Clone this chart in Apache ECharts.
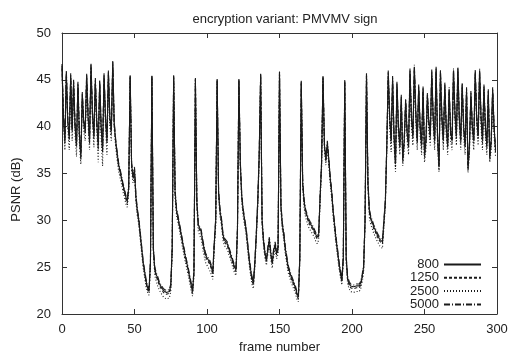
<!DOCTYPE html>
<html>
<head>
<meta charset="utf-8">
<title>encryption variant: PMVMV sign</title>
<script src="https://cdn.jsdelivr.net/npm/echarts@6/dist/echarts.min.js"></script>
<style>
  html, body { margin: 0; padding: 0; background: #fff; }
  #chart { width: 511px; height: 351px; }
</style>
</head>
<body>
<div id="chart"></div>
<script>
// PSNR per frame (frames 0..299)
const psnr800 = [
  46.5, 41, 38.5, 45.8, 40.5, 38.8, 45.5, 39.5, 44.8, 40, 38, 44.6, 39, 36.8, 43.5,
  40.5, 39.5, 45.5, 41, 38.5, 46.6, 41.5, 39, 45, 40.5, 38, 44.8, 40, 37.5, 45.5,
  41, 38.5, 45.8, 41, 39.5, 46.9, 40.4, 38.5, 37.2, 36, 35.3, 34.6, 33.8, 33.2, 32.5,
  32, 33.5, 45.4, 36, 34.6, 35.5, 32.5, 31, 30, 28.5, 27, 25.5, 24.5, 23.5, 22.8,
  22.5, 25.5, 45.4, 27, 24.8, 24.2, 23.8, 23.3, 23, 22.8, 22.5, 22.6, 22.3, 22.2, 22.4,
  23, 27, 45.4, 33, 31.1, 30.3, 29.5, 28.7, 27.8, 27, 26.2, 25.5, 24.8, 24, 23.2,
  22.4, 24.5, 45.1, 32, 29.5, 29.6, 28.8, 27.8, 27, 26.3, 26, 25.8, 25.5, 25, 24.4,
  27.5, 30, 45, 33, 31, 30, 28.5, 27.9, 27.8, 27.5, 27, 26.5, 26, 25.5, 25,
  24.7, 29, 45, 36, 32.5, 31, 30, 29, 27.5, 26, 24.8, 23.8, 23.3, 25.5, 28.5,
  32, 37, 45.6, 30, 27.8, 26.5, 25.8, 27, 28, 26.5, 25.5, 26.8, 27.5, 26.5, 27,
  45.8, 31.5, 29.5, 28.5, 27, 26, 25, 24.5, 24, 23.6, 23.2, 22.8, 22.2, 21.8, 26,
  44.8, 34, 32, 31, 30.5, 30, 29.7, 29.5, 29.2, 29, 28.5, 28.2, 28.5, 32.5, 36,
  45.3, 38, 36.5, 38.3, 36.5, 34.5, 33, 31, 29.5, 28, 26.8, 25.5, 24.5, 23.6, 26,
  44.9, 26, 23.8, 23.3, 23, 22.8, 22.9, 22.7, 23, 22.8, 23, 23.3, 24, 25, 30,
  45.6, 34, 31, 30.2, 29.8, 29.3, 29, 28.6, 28.3, 28, 27.8, 27.7, 27.6, 32, 38,
  45.8, 41, 38.5, 45.2, 39, 36, 44.6, 40, 38, 43.2, 36.5, 38.5, 42.8, 39.5, 38,
  46, 41, 39, 46.4, 41.5, 38.5, 44.3, 40, 38, 44.1, 37, 38.5, 43.4, 40.5, 39,
  45.9, 41, 38.5, 46.2, 39, 35.7, 45.9, 41, 38.5, 44.5, 40, 38, 44, 39.5, 38.5,
  46, 41.5, 39, 46.2, 41, 38.5, 44.5, 40, 38, 44, 35.6, 38, 43.6, 40, 38.5,
  45.9, 41, 39, 46, 41, 38.5, 44.3, 40, 38, 43.8, 36.8, 38.5, 44, 40, 37.5
]
const psnr1250 = [
  46.2, 41.3, 38.2, 45.5, 40.8, 38.5, 45.2, 39.8, 44.5, 40.3, 37.8, 44.3, 39.3, 36.5, 43.2,
  40.2, 39.2, 45.2, 41.3, 38.2, 46.3, 41.2, 38.7, 44.7, 40.2, 37.6, 44.5, 39.7, 37.2, 45.2,
  40.7, 38.2, 45.5, 40.7, 39.2, 46.6, 40.1, 38.3, 37, 35.8, 35, 34.4, 33.6, 33, 32.3,
  31.8, 33.3, 45.3, 35.8, 34.4, 35.2, 32.3, 30.8, 29.8, 28.3, 26.8, 25.3, 24.3, 23.3, 22.6,
  22.3, 25.3, 45.3, 26.8, 24.6, 24, 23.6, 23.1, 22.8, 22.6, 22.3, 22.4, 22.1, 22, 22.2,
  22.8, 26.8, 45.3, 32.8, 30.9, 30.1, 29.3, 28.5, 27.6, 26.8, 26, 25.3, 24.6, 23.8, 23,
  22.2, 24.3, 45, 31.8, 29.3, 29.4, 28.6, 27.6, 26.8, 26.1, 25.8, 25.6, 25.3, 24.8, 24.2,
  27.3, 29.8, 44.9, 32.8, 30.8, 29.8, 28.3, 27.7, 27.6, 27.3, 26.8, 26.3, 25.8, 25.3, 24.8,
  24.5, 28.8, 44.9, 35.8, 32.3, 30.8, 29.8, 28.8, 27.3, 25.8, 24.6, 23.6, 23.1, 25.3, 28.3,
  31.8, 36.8, 45.5, 29.8, 27.6, 26.3, 25.6, 26.8, 27.8, 26.3, 25.3, 26.6, 27.3, 26.3, 26.8,
  45.7, 31.3, 29.3, 28.3, 26.8, 25.8, 24.8, 24.3, 23.8, 23.4, 23, 22.6, 22, 21.6, 25.8,
  44.7, 33.8, 31.8, 30.8, 30.3, 29.8, 29.5, 29.3, 29, 28.8, 28.3, 28, 28.3, 32.3, 35.8,
  45.2, 37.8, 36.3, 38.1, 36.3, 34.3, 32.8, 30.8, 29.3, 27.8, 26.6, 25.3, 24.3, 23.4, 25.8,
  44.8, 25.8, 23.6, 23.1, 22.8, 22.6, 22.7, 22.5, 22.8, 22.6, 22.8, 23.1, 23.8, 24.8, 29.8,
  45.5, 33.8, 30.8, 30, 29.6, 29.1, 28.8, 28.4, 28.1, 27.8, 27.6, 27.5, 27.4, 31.8, 37.8,
  45.5, 40.7, 38.2, 44.9, 38.7, 35.7, 44.3, 39.7, 37.7, 42.9, 36.2, 38.2, 42.5, 39.2, 37.7,
  45.7, 40.7, 38.7, 46.1, 41.2, 38.2, 44, 39.7, 37.7, 43.8, 36.7, 38.2, 43.1, 40.2, 38.7,
  45.6, 40.7, 38.2, 45.9, 38.7, 35.4, 45.6, 40.7, 38.2, 44.2, 39.7, 37.7, 43.7, 39.2, 38.2,
  45.7, 41.2, 38.7, 45.9, 40.7, 38.2, 44.2, 39.7, 37.7, 43.7, 35.3, 37.7, 43.3, 39.7, 38.2,
  45.6, 40.7, 38.7, 45.7, 40.7, 38.2, 44, 39.7, 37.7, 43.5, 36.5, 38.2, 43.7, 39.7, 37.2
]
const psnr2500 = [
  46, 40.5, 37.5, 45.3, 39.8, 37.5, 45, 38.5, 44.2, 39.2, 36.8, 44, 38.2, 36, 43,
  39.5, 38.5, 45, 40.2, 37.5, 46, 40.5, 37.8, 44.5, 39.5, 36.2, 44.2, 38.8, 35.8, 45,
  40, 37, 45.3, 40, 38.5, 46.4, 39.8, 37.8, 36.5, 35.3, 34.6, 33.9, 33.1, 32.5, 31.8,
  31.4, 33, 45.2, 35.4, 34, 34.8, 31.9, 30.4, 29.4, 27.9, 26.4, 24.9, 23.9, 22.9, 22.3,
  22, 25, 45.2, 26.4, 24.1, 23.5, 23, 22.6, 22.3, 22.1, 21.8, 21.8, 21.6, 21.5, 21.7,
  22.4, 26.5, 45.2, 32.4, 30.5, 29.7, 28.9, 28.1, 27.2, 26.4, 25.6, 24.9, 24.2, 23.4, 22.6,
  21.9, 24, 44.9, 31.4, 28.8, 28.8, 28, 27, 26.2, 25.5, 25.2, 25, 24.6, 24.2, 23.7,
  27, 29.4, 44.8, 32.4, 30.4, 29.4, 27.9, 27.3, 27.2, 26.9, 26.4, 25.9, 25.4, 24.9, 24.4,
  24.1, 28.4, 44.8, 35.4, 31.9, 30.4, 29.4, 28.4, 26.9, 25.4, 24.2, 23.2, 22.7, 25, 28,
  31.5, 36.5, 45.4, 29.4, 27.2, 25.9, 25.2, 26.4, 27.4, 25.9, 24.9, 26.2, 26.9, 25.9, 26.4,
  45.6, 31, 28.9, 27.9, 26.4, 25.4, 24.4, 23.9, 23.4, 23, 22.6, 22.2, 21.6, 21.3, 25.4,
  44.6, 33.4, 31.3, 30.3, 29.8, 29.3, 29, 28.8, 28.5, 28.3, 27.8, 27.5, 27.9, 32, 35.5,
  45.1, 37.4, 35.9, 37.7, 35.9, 33.9, 32.4, 30.4, 28.9, 27.4, 26.2, 24.9, 23.9, 23.1, 25.5,
  44.7, 25.4, 23.2, 22.7, 22.4, 22.2, 22.3, 22.1, 22.4, 22.2, 22.4, 22.7, 23.4, 24.4, 29.5,
  45.4, 33.4, 30.3, 29.5, 29.1, 28.6, 28.3, 27.9, 27.6, 27.3, 27.1, 27, 27, 31.5, 37.5,
  45.2, 40, 37.3, 44.6, 38, 35.2, 44, 39, 37, 42.6, 35.8, 37.5, 42.2, 38.5, 37,
  45.5, 40, 38, 45.9, 40.5, 37.5, 43.8, 39, 37, 43.5, 36.2, 37.5, 42.8, 39.5, 38,
  45.4, 40, 37.5, 45.7, 38, 35.2, 45.4, 40, 37.5, 44, 39, 37, 43.5, 38.5, 37.5,
  45.5, 40.5, 38, 45.7, 40, 37.5, 44, 39, 37, 43.5, 35.1, 37, 43, 39, 37.5,
  45.4, 40, 38, 45.5, 40, 37.5, 43.8, 39, 37, 43.3, 36.2, 37.5, 43.5, 39, 36.8
]
const psnr5000 = [
  46.7, 41.2, 38.8, 46, 40.7, 39, 45.7, 39.7, 45, 40.2, 38.3, 44.8, 39.2, 37.2, 43.7,
  40.7, 39.7, 45.7, 41.2, 38.8, 46.8, 41.7, 39.3, 45.2, 40.7, 38.3, 45, 40.2, 37.8, 45.7,
  41.2, 38.8, 46, 41.2, 39.7, 47, 40.6, 38.7, 37.4, 36.2, 35.5, 34.8, 34, 33.4, 32.7,
  32.2, 33.7, 45.5, 36.2, 34.8, 35.7, 32.7, 31.2, 30.2, 28.7, 27.2, 25.7, 24.7, 23.7, 23,
  22.7, 25.7, 45.5, 27.2, 25, 24.4, 24, 23.5, 23.2, 23, 22.7, 22.8, 22.5, 22.4, 22.6,
  23.2, 27.2, 45.5, 33.2, 31.3, 30.5, 29.7, 28.9, 28, 27.2, 26.4, 25.7, 25, 24.2, 23.4,
  22.6, 24.7, 45.2, 32.2, 29.7, 29.8, 29, 28, 27.2, 26.5, 26.2, 26, 25.7, 25.2, 24.6,
  27.7, 30.2, 45.1, 33.2, 31.2, 30.2, 28.7, 28.1, 28, 27.7, 27.2, 26.7, 26.2, 25.7, 25.2,
  24.9, 29.2, 45.1, 36.2, 32.7, 31.2, 30.2, 29.2, 27.7, 26.2, 25, 24, 23.5, 25.7, 28.7,
  32.2, 37.2, 45.7, 30.2, 28, 26.7, 26, 27.2, 28.2, 26.7, 25.7, 27, 27.7, 26.7, 27.2,
  45.9, 31.7, 29.7, 28.7, 27.2, 26.2, 25.2, 24.7, 24.2, 23.8, 23.4, 23, 22.4, 22, 26.2,
  44.9, 34.2, 32.2, 31.2, 30.7, 30.2, 29.9, 29.7, 29.4, 29.2, 28.7, 28.4, 28.7, 32.7, 36.2,
  45.4, 38.2, 36.7, 38.5, 36.7, 34.7, 33.2, 31.2, 29.7, 28.2, 27, 25.7, 24.7, 23.8, 26.2,
  45, 26.2, 24, 23.5, 23.2, 23, 23.1, 22.9, 23.2, 23, 23.2, 23.5, 24.2, 25.2, 30.2,
  45.7, 34.2, 31.2, 30.4, 30, 29.5, 29.2, 28.8, 28.5, 28.2, 28, 27.9, 27.8, 32.2, 38.2,
  46, 41.2, 38.7, 45.4, 39.2, 36.2, 44.8, 40.2, 38.2, 43.4, 36.7, 38.7, 43, 39.7, 38.2,
  46.2, 41.2, 39.2, 46.6, 41.7, 38.7, 44.5, 40.2, 38.2, 44.3, 37.2, 38.7, 43.6, 40.7, 39.2,
  46.1, 41.2, 38.7, 46.4, 39.2, 35.9, 46.1, 41.2, 38.7, 44.7, 40.2, 38.2, 44.2, 39.7, 38.7,
  46.2, 41.7, 39.2, 46.4, 41.2, 38.7, 44.7, 40.2, 38.2, 44.2, 35.8, 38.2, 43.8, 40.2, 38.7,
  46.1, 41.2, 39.2, 46.2, 41.2, 38.7, 44.5, 40.2, 38.2, 44, 37, 38.7, 44.2, 40.2, 37.7
]
const seriesNames = ["800", "1250", "2500", "5000"]
const xTicks = [0, 50, 100, 150, 200, 250, 300]
const yTicks = [20, 25, 30, 35, 40, 45, 50]

const ink = "#1a1a1a"
const font = "Liberation Sans, Arial, Helvetica, sans-serif"

const toPoints = (arr) => arr.map((v, i) => [i, v])

const chart = echarts.init(document.getElementById("chart"), null, { renderer: "canvas" })

const axisCommon = {
  type: "value",
  axisLine: { show: true, onZero: false, lineStyle: { color: "#333", width: 1 } },
  axisTick: { show: true, inside: true, length: 5, lineStyle: { color: "#333" } },
  splitLine: { show: false },
}

const lineSeries = (name, data, type, z) => ({
  name,
  type: "line",
  data: toPoints(data),
  showSymbol: false,
  symbol: "none",
  z,
  lineStyle: { color: ink, width: 1.1, type },
  itemStyle: { color: ink },
  emphasis: { disabled: true },
})

const option = {
  animation: false,
  backgroundColor: "#fff",
  title: {
    text: "encryption variant: PMVMV sign",
    left: 280,
    top: 8,
    textAlign: "center",
    textStyle: { fontFamily: font, fontSize: 13, fontWeight: "normal", color: "#222" },
  },
  legend: {
    data: seriesNames,
    orient: "vertical",
    align: "right",
    right: 29,
    top: 258,
    itemWidth: 37,
    itemHeight: 10,
    itemGap: 0.3,
    padding: 0,
    itemStyle: { opacity: 0 },
    textStyle: { fontFamily: font, fontSize: 13, lineHeight: 12, color: "#222" },
  },
  grid: { left: 62, right: 14, top: 33, bottom: 37, containLabel: false, outerBoundsMode: "none" },
  xAxis: [
    {
      ...axisCommon,
      position: "bottom",
      min: xTicks[0],
      max: xTicks[xTicks.length - 1],
      interval: 50,
      name: "frame number",
      nameLocation: "middle",
      nameGap: 27,
      nameTextStyle: { fontFamily: font, fontSize: 13, color: "#222" },
      axisLabel: { margin: 9, fontFamily: font, fontSize: 13, color: "#222" },
    },
    {
      ...axisCommon,
      position: "top",
      min: xTicks[0],
      max: xTicks[xTicks.length - 1],
      interval: 50,
      axisLabel: { show: false },
    },
  ],
  yAxis: [
    {
      ...axisCommon,
      position: "left",
      min: yTicks[0],
      max: yTicks[yTicks.length - 1],
      interval: 5,
      name: "PSNR (dB)",
      nameLocation: "middle",
      nameGap: 39,
      nameTextStyle: { fontFamily: font, fontSize: 13, color: "#222", padding: [0, 32, 0, 0] },
      axisLabel: { margin: 11, fontFamily: font, fontSize: 13, color: "#222" },
    },
    {
      ...axisCommon,
      position: "right",
      min: yTicks[0],
      max: yTicks[yTicks.length - 1],
      interval: 5,
      axisLabel: { show: false },
    },
  ],
  series: [
    lineSeries("2500", psnr2500, [1, 2], 2),
    lineSeries("1250", psnr1250, [3, 2], 3),
    lineSeries("5000", psnr5000, [6, 2, 1, 2], 4),
    lineSeries("800", psnr800, "solid", 5),
  ],
}

chart.setOption(option)
</script>
</body>
</html>
